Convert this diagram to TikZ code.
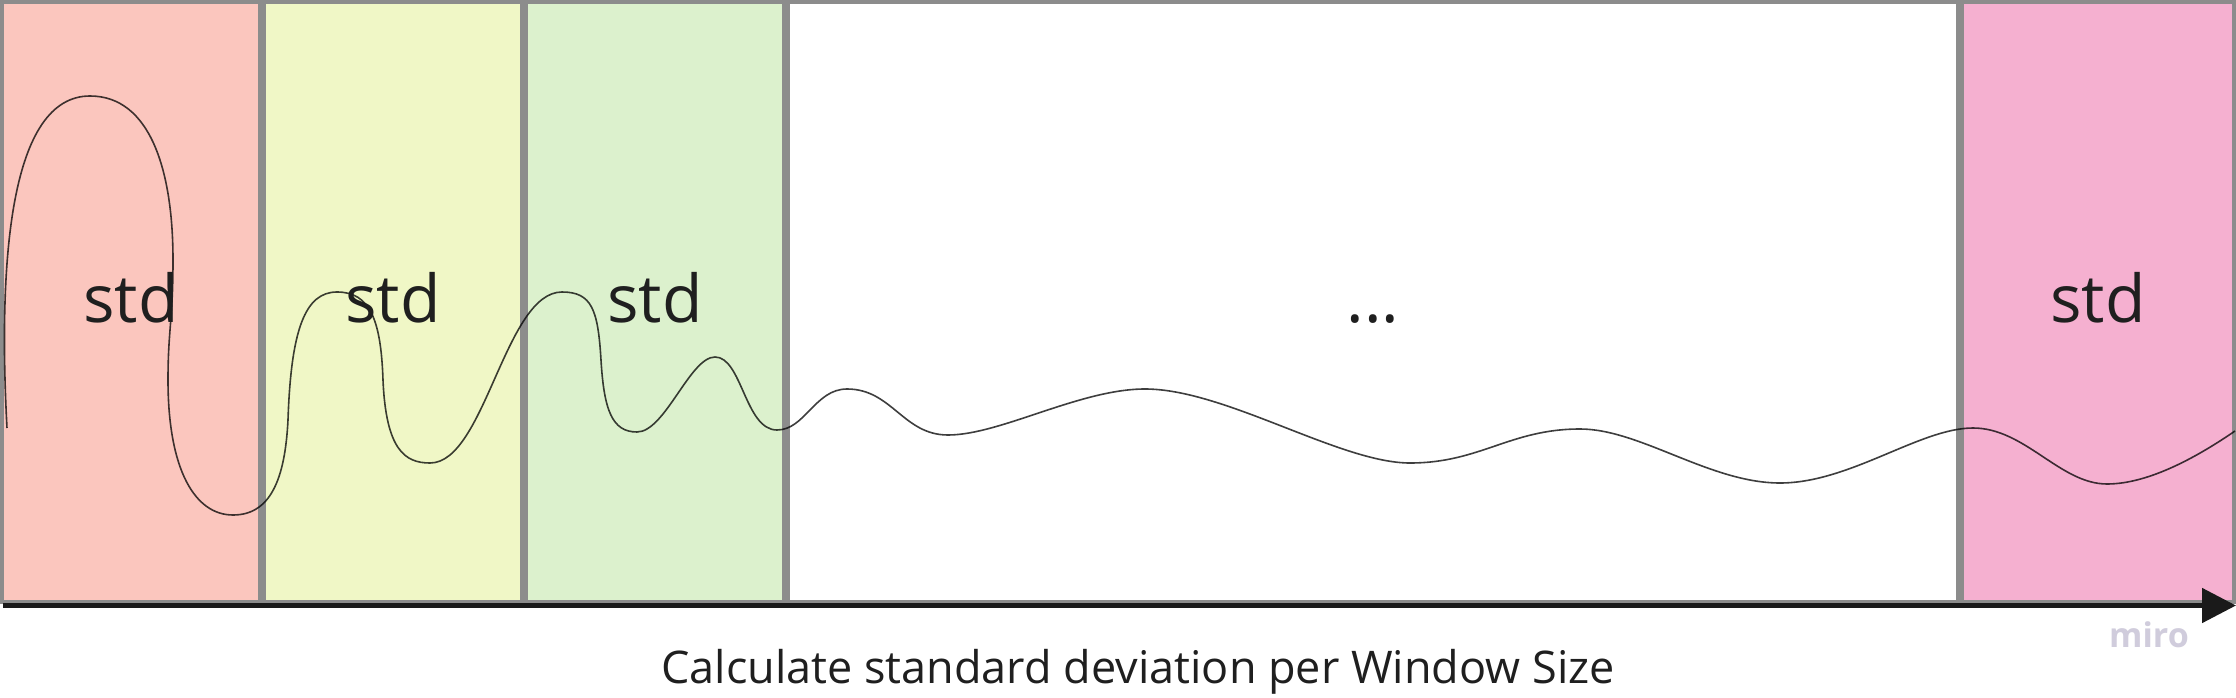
\documentclass[tikz,border=0pt]{standalone}
\usepackage{fontspec}
\setmainfont{Open Sans}
\usetikzlibrary{arrows.meta}
\definecolor{redfill}{HTML}{FBC6BE}
\definecolor{yelfill}{HTML}{F0F7C6}
\definecolor{grnfill}{HTML}{DCF1CD}
\definecolor{pinkfill}{HTML}{F5B0D0}
\definecolor{bordergray}{HTML}{8C8C8C}
\definecolor{curvegray}{HTML}{3E3E3E}
\definecolor{axisblack}{HTML}{1A1A1A}
\definecolor{mirogray}{HTML}{D0CCDC}
\definecolor{textblack}{HTML}{1F1F1F}
\begin{document}
\begin{tikzpicture}[x=1pt,y=-1pt,
  window/.style={draw=bordergray, line width=4pt},
  stdlabel/.style={anchor=base, inner sep=0pt, text=textblack, font=\fontsize{66}{80}\selectfont},
  caption/.style={anchor=base, inner sep=0pt, text=textblack, font=\fontsize{45}{54}\selectfont},
  watermark/.style={anchor=base, inner sep=0pt, text=mirogray, font=\fontsize{34}{40}\selectfont\bfseries},
  curve/.style={draw=curvegray, line width=1.6pt, blend mode=multiply},
  axis/.style={draw=axisblack, line width=5pt, -{Triangle[length=34pt,width=34pt]}}
]
\useasboundingbox (0,0) rectangle (2236,698);
\fill[white] (0,0) rectangle (2236,698);
% windows
\draw[window, fill=redfill]  (2,2) rectangle (260,602);
\draw[window, fill=yelfill]  (264,2) rectangle (522,602);
\draw[window, fill=grnfill]  (526,2) rectangle (784,602);
\draw[window, fill=white]    (788,2) rectangle (1958,602);
\draw[window, fill=pinkfill] (1962,2) rectangle (2234,602);
% signal
\draw[curve] (7,428)
  .. controls (-2,260) and (10,96) .. (90,96)
  .. controls (150,96) and (173,170) .. (173,260)
  .. controls (173,320) and (168,330) .. (168,380)
  .. controls (168,470) and (195,515) .. (233,515)
  .. controls (270,515) and (285,480) .. (288,420)
  .. controls (291,330) and (305,292) .. (337,292)
  .. controls (370,292) and (381,320) .. (383,380)
  .. controls (386,450) and (405,463) .. (430,463)
  .. controls (485,463) and (505,292) .. (562,292)
  .. controls (592,292) and (598,310) .. (601,360)
  .. controls (604,410) and (612,432) .. (637,432)
  .. controls (665,432) and (690,357) .. (715,357)
  .. controls (742,357) and (745,430) .. (777,430)
  .. controls (805,430) and (815,389) .. (847,389)
  .. controls (892,389) and (903,435) .. (948,435)
  .. controls (1000,435) and (1080,389) .. (1145,389)
  .. controls (1225,389) and (1340,463) .. (1410,463)
  .. controls (1480,463) and (1510,429) .. (1580,429)
  .. controls (1640,429) and (1710,483) .. (1780,483)
  .. controls (1850,483) and (1920,428) .. (1973,428)
  .. controls (2025,428) and (2060,484) .. (2107,484)
  .. controls (2150,484) and (2200,455) .. (2235,431);
% labels
\node[stdlabel] (s1) at (131,322) {std};
\node[stdlabel] (s2) at (393,322) {std};
\node[stdlabel] (s3) at (655,322) {std};
\node[stdlabel] (s4) at (1373,322) {...};
\node[stdlabel] (s5) at (2098,322) {std};
% axis
\coordinate (axisstart) at (3,605.5);
\coordinate (axisend) at (2236,605.5);
\draw[axis] (axisstart) -- (axisend);
\node[watermark] (miro) at (2149,647) {miro};
\node[caption] (cap) at (1138,683) {Calculate standard deviation per Window Size};
\end{tikzpicture}
\end{document}
